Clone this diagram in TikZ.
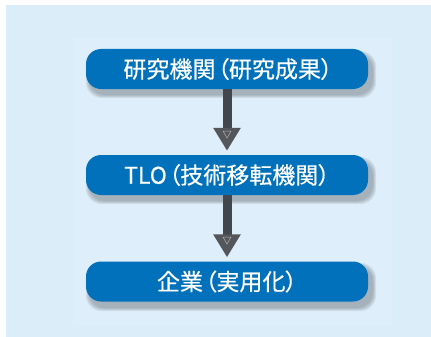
\documentclass[tikz,border=0pt]{standalone}
\usepackage{fontspec}
\newfontfamily\jpfont[RawFeature=+palt, FakeBold=0.5]{Noto Sans CJK JP}
\usetikzlibrary{arrows.meta,calc}
\definecolor{bgblue}{HTML}{DCEDFA}
\definecolor{innerblue}{HTML}{DEEEFA}
\definecolor{boxblue}{HTML}{0071BA}
\definecolor{shaftgray}{HTML}{42474E}
\definecolor{headgray}{HTML}{53565A}
\tikzset{
  stepbox/.style={fill=boxblue, rounded corners=15pt, minimum width=282pt, minimum height=40pt,
    text=white, font=\jpfont\fontsize{23}{25}\selectfont, inner sep=0pt},
  flowarrow/.style={draw=shaftgray, line width=9pt, shorten >=4pt,
    -{Triangle[width=26pt,length=23pt,color=headgray]}},
  headmark/.style={draw=gray!60, line width=0.5pt, fill=none}
}
\begin{document}
\begin{tikzpicture}[x=1pt,y=-1pt]
\useasboundingbox (0,0) rectangle (431,337);
\fill[bgblue] (6,5) rectangle (431,337);
\fill[innerblue] (73,38) rectangle (392,326);
% shadows
\foreach \i/\o in {0/0.05,1/0.05,2/0.05,3/0.06,4/0.06} {
  \fill[black, opacity=\o, rounded corners=16pt] (86+3-\i*0.8,49+5-\i*0.8) rectangle (368+5+\i*0.8,89+6+\i*0.8);
  \fill[black, opacity=\o, rounded corners=16pt] (86+3-\i*0.8,155+5-\i*0.8) rectangle (368+5+\i*0.8,195+6+\i*0.8);
  \fill[black, opacity=\o, rounded corners=16pt] (86+3-\i*0.8,261+5-\i*0.8) rectangle (368+5+\i*0.8,302+6+\i*0.8);
}
\node[stepbox] (b1) at (227,69) {\hspace{2pt}研究機関\hspace{2pt}（研究成果）};
\node[stepbox] (b2) at (227,175) {TLO\hspace{2pt}（技術移転機関）};
\node[stepbox] (b3) at (227,281.5) {企業\hspace{2pt}（実用化）};
\draw[flowarrow] (b1.south) -- (b2.north);
\draw[flowarrow] (b2.south) -- (b3.north);
\coordinate (m1) at (227,134);
\coordinate (m2) at (227,240);
\draw[headmark] ($(m1)+(-4,-3)$) -- ($(m1)+(4,-3)$) -- ($(m1)+(0,4)$) -- cycle;
\draw[headmark] ($(m2)+(-4,-3)$) -- ($(m2)+(4,-3)$) -- ($(m2)+(0,4)$) -- cycle;
\end{tikzpicture}
\end{document}
